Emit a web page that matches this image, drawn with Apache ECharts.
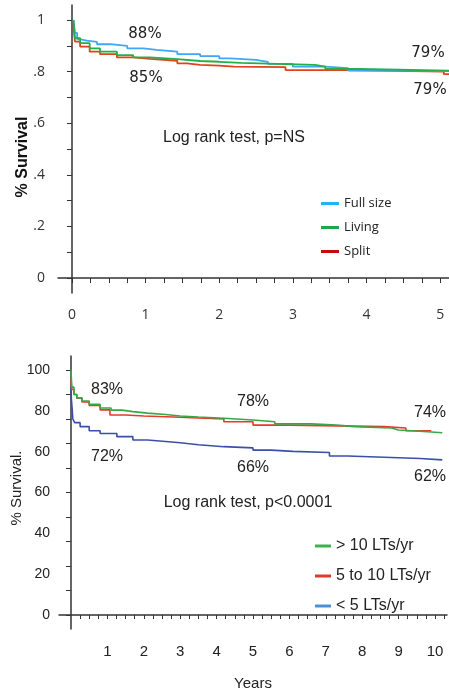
<!DOCTYPE html>
<html>
<head>
<meta charset="utf-8">
<script src="https://cdn.jsdelivr.net/npm/echarts@6/dist/echarts.min.js"></script>
<style>
  html, body { margin: 0; padding: 0; background: #fff; }
  #chart { width: 449px; height: 696px; }
</style>
</head>
<body>
<div id="chart"></div>
<script>
// top panel: survival by graft type, [years, fraction]
const fullSize = [[0.02, 1], [0.04, 0.95], [0.07, 0.925], [0.12, 0.92], [0.2, 0.915], [0.34, 0.906], [0.52, 0.9], [0.75, 0.89], [0.97, 0.884], [1.15, 0.877], [1.43, 0.868], [1.74, 0.86], [2.0, 0.851], [2.15, 0.845], [2.5, 0.838], [2.66, 0.83], [3.0, 0.819], [3.44, 0.813], [3.75, 0.804], [4.5, 0.802], [5.12, 0.8]];
const living = [[0.02, 1], [0.04, 0.93], [0.11, 0.91], [0.24, 0.89], [0.38, 0.877], [0.61, 0.864], [0.83, 0.855], [1.06, 0.848], [1.43, 0.841], [1.74, 0.838], [2.0, 0.834], [2.3, 0.831], [2.66, 0.826], [3.3, 0.819], [3.44, 0.81], [3.9, 0.804], [5.12, 0.803]];
const split = [[0.02, 0.98], [0.04, 0.916], [0.11, 0.897], [0.24, 0.877], [0.38, 0.868], [0.61, 0.855], [0.83, 0.849], [1.06, 0.842], [1.43, 0.832], [1.56, 0.826], [1.74, 0.823], [2.0, 0.819], [2.2, 0.817], [2.9, 0.806], [3.7, 0.8], [5.05, 0.79], [5.12, 0.79]];

// bottom panel: survival by centre volume, [years, %]
const over10 = [[0, 100], [0.02, 93], [0.08, 90], [0.16, 88.6], [0.3, 87.3], [0.5, 86], [0.8, 84.5], [1.1, 83.6], [1.4, 83], [1.7, 82.4], [2.1, 81.8], [2.6, 81.2], [3.0, 80.8], [3.5, 80.3], [4.2, 79.6], [5.0, 78.9], [5.6, 78], [6.6, 77.5], [7.3, 76.9], [7.8, 76.3], [8.8, 75.5], [9.0, 74.8], [9.8, 74.4], [10.2, 74.4]];
const from5to10 = [[0, 96.5], [0.02, 92], [0.08, 90], [0.16, 88.5], [0.3, 87], [0.5, 85.5], [0.8, 83.7], [1.07, 81.6], [1.5, 81.2], [2.0, 80.8], [2.8, 80.4], [3.5, 80], [4.2, 78.9], [5.0, 77.5], [6.0, 77.3], [6.9, 76.9], [8.6, 76.3], [9.2, 75.2], [9.9, 75.2]];
const under5 = [[0, 93], [0.01, 88], [0.03, 84.5], [0.05, 80], [0.1, 78.5], [0.25, 76.9], [0.5, 75.2], [0.8, 74.1], [1.26, 72.8], [1.7, 71.4], [2.1, 70.8], [2.6, 70.3], [3.0, 69.5], [3.5, 68.7], [4.2, 68.2], [5.0, 67.3], [5.5, 66.8], [6.1, 66.3], [7.1, 64.9], [7.6, 64.5], [8.4, 63.9], [9.6, 63.3], [10.2, 63.3]];

// axis ticks and labels
const topXLabels = [0, 1, 2, 3, 4, 5];
const topXTicks = [0, 0.25, 0.5, 0.75, 1, 1.25, 1.5, 1.75, 2, 2.25, 2.5, 2.75, 3, 3.25, 3.5, 3.75, 4, 4.25, 4.5, 4.75, 5];
const topYTicks = [0, 0.1, 0.2, 0.3, 0.4, 0.5, 0.6, 0.7, 0.8, 0.9, 1];
const topYLabelPos = [0, 0.2, 0.4, 0.6, 0.8, 1];
const topYLabelText = ['0', '.2', '.4', '.6', '.8', '1'];
const botXLabels = [1, 2, 3, 4, 5, 6, 7, 8, 9, 10];
const botXTicks = [0.25, 0.5, 0.75, 1, 1.25, 1.5, 1.75, 2, 2.25, 2.5, 2.75, 3, 3.25, 3.5, 3.75, 4, 4.25, 4.5, 4.75, 5, 5.25, 5.5, 5.75, 6, 6.25, 6.5, 6.75, 7, 7.25, 7.5, 7.75, 8, 8.25, 8.5, 8.75, 9, 9.25, 9.5, 9.75, 10, 10.25];
const botYTicks = [0, 10, 20, 30, 40, 50, 60, 70, 80, 90, 100];
const botYLabelPos = [0, 16.67, 33.33, 50, 66.67, 83.33, 100];
const botYLabelText = ['0', '20', '40', '60', '60', '80', '100'];

const chart = echarts.init(document.getElementById('chart'), null, { renderer: 'canvas' });

const axisColor = '#333';
const arial = '"Liberation Sans", Arial, sans-serif';
const calibri = '"Open Sans", sans-serif';

function txt(x, y, text, font, size, extra) {
  return Object.assign({
    type: 'text', x: x, y: y,
    style: { text: text, fontFamily: font, fontSize: size, fill: '#222', align: 'center', verticalAlign: 'middle' }
  }, extra || {});
}

const options = {
  animation: false,
  backgroundColor: '#fff',
  grid: [
    { left: 58, top: 5, width: 391, height: 288 },
    { left: 59, top: 356, width: 388, height: 273 }
  ],
  xAxis: [
    {
      gridIndex: 0, type: 'value', min: -0.19, max: 5.12,
      axisLine: { lineStyle: { color: axisColor, width: 1.5 } },
      axisTick: { show: true, length: 5, customValues: topXTicks, lineStyle: { color: axisColor } },
      axisLabel: { customValues: topXLabels, margin: 15, fontFamily: calibri, fontSize: 14, color: '#333' },
      splitLine: { show: false }
    },
    {
      gridIndex: 1, type: 'value', min: -0.33, max: 10.33,
      name: 'Years', nameLocation: 'middle', nameGap: 47,
      nameTextStyle: { fontFamily: arial, fontSize: 15, color: '#222' },
      axisLine: { lineStyle: { color: axisColor, width: 1.5 } },
      axisTick: { show: true, length: 4, customValues: botXTicks, lineStyle: { color: axisColor } },
      axisLabel: { customValues: botXLabels, margin: 15, fontFamily: arial, fontSize: 15, color: '#222' },
      splitLine: { show: false }
    }
  ],
  yAxis: [
    {
      gridIndex: 0, type: 'value', min: -0.058, max: 1.058,
      axisLine: { show: true, lineStyle: { color: axisColor, width: 1.5 } },
      axisTick: { show: true, length: 5, customValues: topYTicks, lineStyle: { color: axisColor } },
      axisLabel: {
        customValues: topYLabelPos, margin: 13, fontFamily: calibri, fontSize: 14, color: '#333',
        formatter: function (v) { return topYLabelText[topYLabelPos.indexOf(v)]; }
      },
      splitLine: { show: false }
    },
    {
      gridIndex: 1, type: 'value', min: -5.7, max: 105.7,
      axisLine: { show: true, lineStyle: { color: axisColor, width: 1.5 } },
      axisTick: { show: true, length: 5, customValues: botYTicks, lineStyle: { color: axisColor } },
      axisLabel: {
        customValues: botYLabelPos, margin: 9, fontFamily: arial, fontSize: 14, color: '#222',
        formatter: function (v) { return botYLabelText[botYLabelPos.indexOf(v)]; }
      },
      splitLine: { show: false }
    }
  ],
  legend: [
    {
      orient: 'vertical', left: 316, top: 192, icon: 'rect',
      itemWidth: 18, itemHeight: 3, itemGap: 11,
      textStyle: { fontFamily: calibri, fontSize: 13, color: '#222' },
      data: [
        { name: 'Full size', itemStyle: { color: '#1fb4f0' } },
        { name: 'Living', itemStyle: { color: '#1aa94f' } },
        { name: 'Split', itemStyle: { color: '#c30d0d' } }
      ]
    },
    {
      orient: 'vertical', left: 310, top: 533, icon: 'rect',
      itemWidth: 16, itemHeight: 3, itemGap: 14,
      textStyle: { fontFamily: arial, fontSize: 16, color: '#222' },
      data: [
        { name: '> 10 LTs/yr', itemStyle: { color: '#3fb04f' } },
        { name: '5 to 10 LTs/yr', itemStyle: { color: '#e2392d' } },
        { name: '< 5 LTs/yr', itemStyle: { color: '#4a8fd8' } }
      ]
    }
  ],
  series: [
    { name: 'Full size', type: 'line', step: 'end', xAxisIndex: 0, yAxisIndex: 0, data: fullSize, showSymbol: false, lineStyle: { color: '#3fa7f5', width: 1.8 }, itemStyle: { color: '#3fa7f5' }, z: 3 },
    { name: 'Living', type: 'line', step: 'end', xAxisIndex: 0, yAxisIndex: 0, data: living, showSymbol: false, lineStyle: { color: '#22b04a', width: 1.8 }, itemStyle: { color: '#22b04a' }, z: 4 },
    { name: 'Split', type: 'line', step: 'end', xAxisIndex: 0, yAxisIndex: 0, data: split, showSymbol: false, lineStyle: { color: '#e2421b', width: 1.8 }, itemStyle: { color: '#e2421b' }, z: 2 },
    { name: '< 5 LTs/yr', type: 'line', step: 'end', xAxisIndex: 1, yAxisIndex: 1, data: under5, showSymbol: false, lineStyle: { color: '#3b4fa8', width: 1.6 }, itemStyle: { color: '#3b4fa8' }, z: 2 },
    { name: '5 to 10 LTs/yr', type: 'line', step: 'end', xAxisIndex: 1, yAxisIndex: 1, data: from5to10, showSymbol: false, lineStyle: { color: '#e8392a', width: 1.6 }, itemStyle: { color: '#e8392a' }, z: 3 },
    { name: '> 10 LTs/yr', type: 'line', step: 'end', xAxisIndex: 1, yAxisIndex: 1, data: over10, showSymbol: false, lineStyle: { color: '#37a846', width: 1.6 }, itemStyle: { color: '#37a846' }, z: 4 }
  ],
  graphic: [
    txt(23, 157, '% Survival', arial, 16, { rotation: Math.PI / 2, style: { text: '% Survival', fontFamily: arial, fontSize: 16, fontWeight: 'bold', fill: '#111', align: 'center', verticalAlign: 'middle' } }),
    txt(145, 34, '88%', '"DejaVu Sans", sans-serif', 15),
    txt(146, 78, '85%', '"DejaVu Sans", sans-serif', 15),
    txt(428, 53, '79%', '"DejaVu Sans", sans-serif', 15),
    txt(430, 90, '79%', '"DejaVu Sans", sans-serif', 15),
    txt(234, 138, 'Log rank test, p=NS', arial, 16),
    txt(17, 488, '% Survival.', arial, 15, { rotation: Math.PI / 2 }),
    txt(107, 390, '83%', arial, 16),
    txt(107, 457, '72%', arial, 16),
    txt(253, 402, '78%', arial, 16),
    txt(253, 468, '66%', arial, 16),
    txt(430, 413, '74%', arial, 16),
    txt(430, 477, '62%', arial, 16),
    txt(248, 503, 'Log rank test, p<0.0001', arial, 16)
  ]
};

chart.setOption(options);
</script>
</body>
</html>
